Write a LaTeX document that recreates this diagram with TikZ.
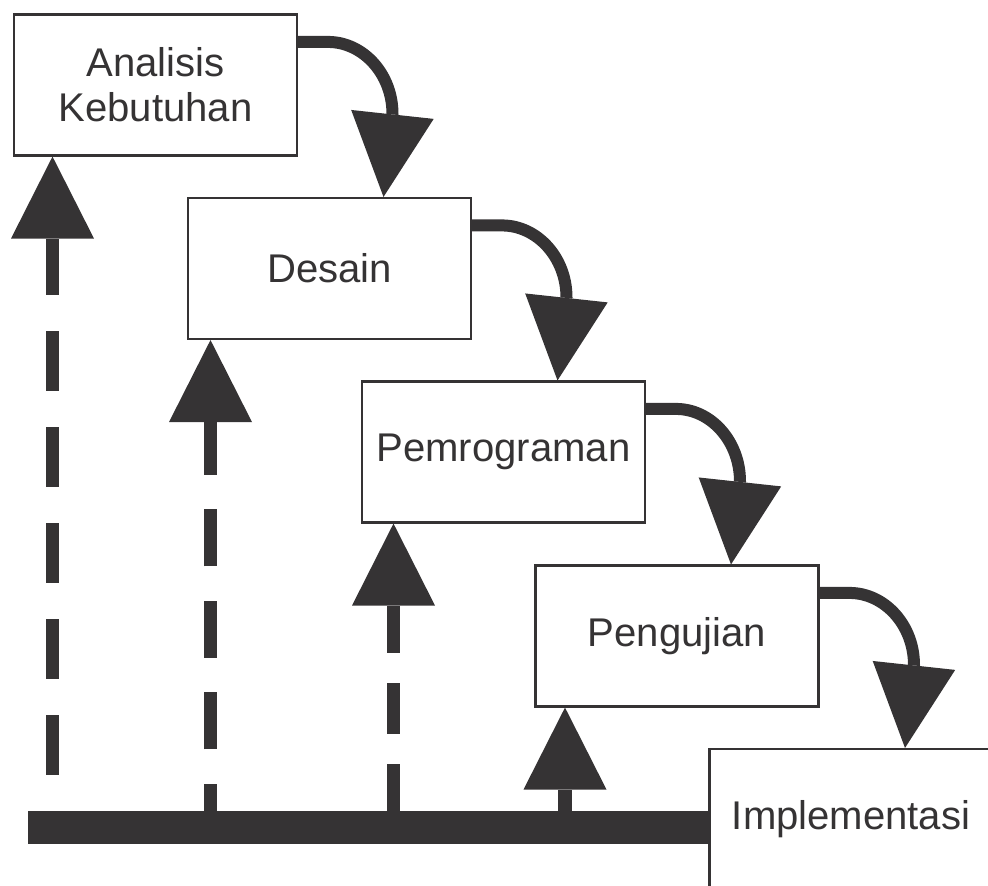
\documentclass[tikz,border=0pt]{standalone}
\usepackage{fontspec}
\setmainfont{Liberation Sans}
\usetikzlibrary{arrows.meta,calc}
\definecolor{ink}{HTML}{353334}
\tikzset{
  stage/.style={draw=ink, fill=white, line width=1.2pt, minimum width=5.66cm,
    minimum height=2.82cm, inner sep=0pt, align=center, text=ink,
    font=\fontsize{22.8}{25.6}\selectfont},
  flow/.style={draw=ink, line width=0.24cm,
    -{Triangle[width=1.66cm,length=1.66cm,line width=0pt]}},
  feedback/.style={draw=ink, line width=0.27cm,
    -{Triangle[width=1.66cm,length=1.64cm,line width=0pt]}}
}

\begin{document}
\begin{tikzpicture}
  \useasboundingbox (0,0) rectangle (19.76,17.72);

  % Stages
  \node[stage] (ana) at (3.11,16.02) {Analisis\\Kebutuhan};
  \node[stage] (des) at (6.59,12.35) {Desain};
  \node[stage] (pro) at (10.07,8.68) {Pemrograman};
  \node[stage] (uji) at (13.54,5.00) {Pengujian};
  \node[stage] (imp) at (17.02,1.33) {Implementasi};

  % Base bar
  \coordinate (base) at (0.56,1.17);
  \draw[ink, line width=0.66cm] (base) -- (base -| imp.west);

  % Forward flow
  \draw[flow] ($(ana.north east)+(0,-0.57)$) -- ++(0.6,0)
    .. controls +(0.7,0) and +(0,0.8) .. ($(des.north)+(1.26,1.66)$)
    -- ($(des.north)+(1.08,0)$);
  \draw[flow] ($(des.north east)+(0,-0.57)$) -- ++(0.6,0)
    .. controls +(0.7,0) and +(0,0.8) .. ($(pro.north)+(1.26,1.66)$)
    -- ($(pro.north)+(1.08,0)$);
  \draw[flow] ($(pro.north east)+(0,-0.57)$) -- ++(0.6,0)
    .. controls +(0.7,0) and +(0,0.8) .. ($(uji.north)+(1.26,1.66)$)
    -- ($(uji.north)+(1.08,0)$);
  \draw[flow] ($(uji.north east)+(0,-0.57)$) -- ++(0.6,0)
    .. controls +(0.7,0) and +(0,0.8) .. ($(imp.north)+(1.26,1.66)$)
    -- ($(imp.north)+(1.08,0)$);

  % Feedback
  \coordinate (f1) at (1.05,1.5);
  \coordinate (f2) at (4.21,1.5);
  \coordinate (f3) at (7.87,1.5);
  \coordinate (f4) at (11.30,1.5);
  \draw[feedback, dash pattern=on 1.2cm off 0.72cm, dash phase=1.2cm] (f1) -- (f1 |- ana.south);
  \draw[feedback, dash pattern=on 1.14cm off 0.69cm, dash phase=0.6cm] (f2) -- (f2 |- des.south);
  \draw[feedback, dash pattern=on 1.02cm off 0.6cm, dash phase=0.08cm] (f3) -- (f3 |- pro.south);
  \draw[feedback] (f4) -- (f4 |- uji.south);
\end{tikzpicture}
\end{document}
